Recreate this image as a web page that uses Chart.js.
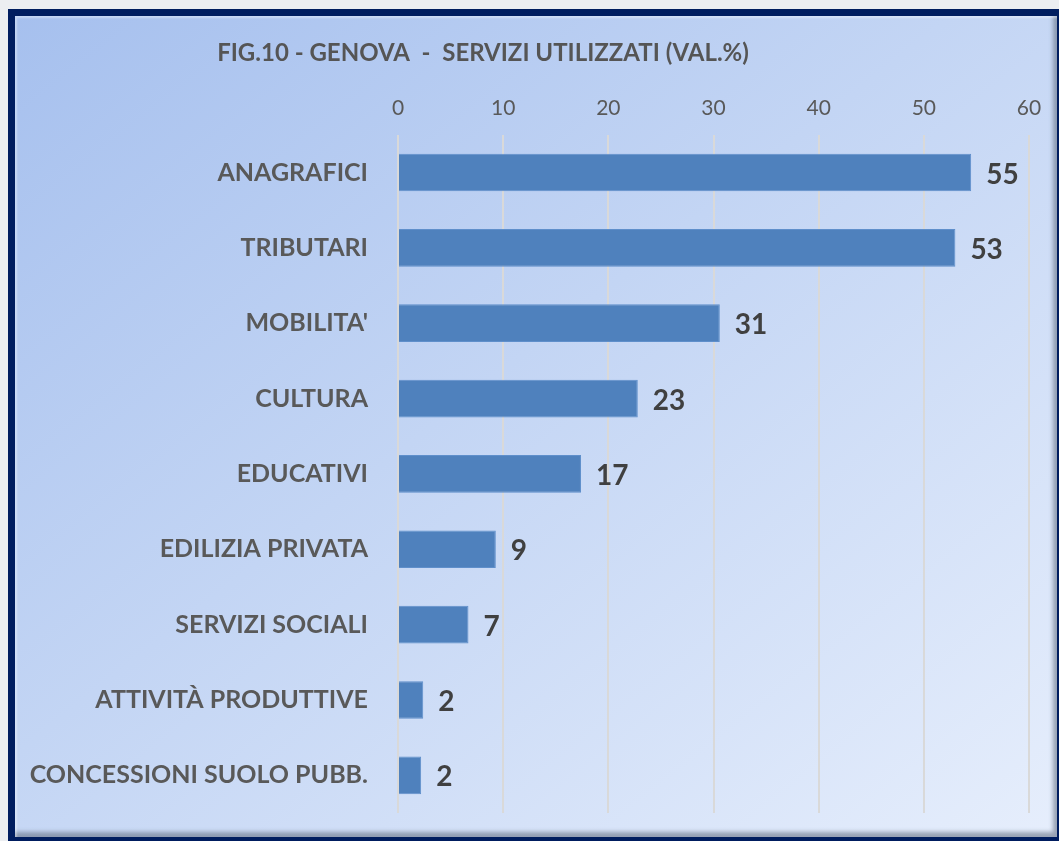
<!DOCTYPE html>
<html>
<head>
<meta charset="utf-8">
<script src="https://cdn.jsdelivr.net/npm/chart.js@4"></script>
<style>
  body { margin: 0; background: #eceef1; overflow: hidden; }
  #frame {
    position: absolute; left: 8px; top: 9px;
    width: 1042px; height: 821px;
    border: 7px solid #001d5f;
    background: linear-gradient(to bottom right, #a6c0ee 0%, #c3d5f4 45%, #e6eefc 100%);
    box-shadow: inset 2px 2px 2px rgba(255,255,255,0.35), inset -4px -5px 4px rgba(90,100,120,0.55);
  }
  #wrap { position: absolute; left: 0; top: 0; width: 1042px; height: 821px; }
</style>
</head>
<body>
<div id="frame"><div id="wrap"><canvas id="barChart"></canvas></div></div>
<script>
// categories and values
const categories = ["ANAGRAFICI", "TRIBUTARI", "MOBILITA'", "CULTURA", "EDUCATIVI",
  "EDILIZIA PRIVATA", "SERVIZI SOCIALI", "ATTIVITÀ PRODUTTIVE", "CONCESSIONI SUOLO PUBB."];
const values = [54.5, 53.0, 30.6, 22.8, 17.4, 9.3, 6.7, 2.4, 2.2];
const tickValues = [0, 10, 20, 30, 40, 50, 60];
const chartTitle = "FIG.10 - GENOVA  -  SERVIZI UTILIZZATI (VAL.%)";

// value labels at the end of each bar
const barLabels = {
  id: "barLabels",
  afterDatasetsDraw(chart) {
    const ctx = chart.ctx;
    const meta = chart.getDatasetMeta(0);
    ctx.save();
    ctx.font = "bold 28px Lato";
    ctx.fillStyle = "#404040";
    ctx.textAlign = "left";
    ctx.textBaseline = "middle";
    meta.data.forEach(function (bar, i) {
      ctx.fillText(Math.round(values[i]), bar.x + 15, bar.y + 2);
    });
    ctx.restore();
  },
};

// title drawn a bit left of centre, like the original
const offsetTitle = {
  id: "offsetTitle",
  afterDraw(chart) {
    const box = chart.titleBlock;
    const ctx = chart.ctx;
    ctx.save();
    ctx.font = "bold 24px Lato";
    ctx.fillStyle = "#555555";
    ctx.textAlign = "center";
    ctx.textBaseline = "middle";
    ctx.fillText(chartTitle, 468, (box.top + box.bottom) / 2 - 3);
    ctx.restore();
  },
};

function createServiziChart() {
  const ctx = document.getElementById("barChart").getContext("2d");

  const data = {
    labels: categories,
    datasets: [
      {
        data: values,
        backgroundColor: "#4f81bd",
        borderColor: "#5f8fcb",
        borderWidth: 1,
        categoryPercentage: 1,
        barPercentage: 0.5,
      },
    ],
  };

  const config = {
    type: "bar",
    data: data,
    plugins: [barLabels, offsetTitle],
    options: {
      indexAxis: "y",
      responsive: true,
      maintainAspectRatio: false,
      animation: false,
      layout: { padding: { left: 15, right: 28, top: 14, bottom: 24 } },
      plugins: {
        legend: { display: false },
        tooltip: { enabled: false },
        title: {
          display: true,
          text: chartTitle,
          color: "rgba(0,0,0,0)",
          font: { family: "Lato", size: 23, weight: "bold" },
          padding: { top: 8, bottom: 16 },
        },
      },
      scales: {
        x: {
          position: "top",
          min: 0,
          max: 60,
          afterBuildTicks(scale) {
            scale.ticks = tickValues.map((v) => ({ value: v }));
          },
          ticks: {
            color: "#595959",
            font: { family: "Lato", size: 21 },
            padding: 14,
          },
          grid: { color: "#d9d9d9", lineWidth: 2, drawTicks: false },
          border: { display: false },
        },
        y: {
          afterFit(scale) {
            scale.width = 368;
            scale.paddingTop = 0;
            scale.paddingBottom = 0;
          },
          ticks: {
            color: "#595959",
            font: { family: "Lato", size: 25, weight: "bold" },
            padding: 30,
          },
          grid: { display: false, drawTicks: false },
          border: { display: false },
        },
      },
    },
  };

  const myChart = new Chart(ctx, config);
}

createServiziChart();
</script>
</body>
</html>
